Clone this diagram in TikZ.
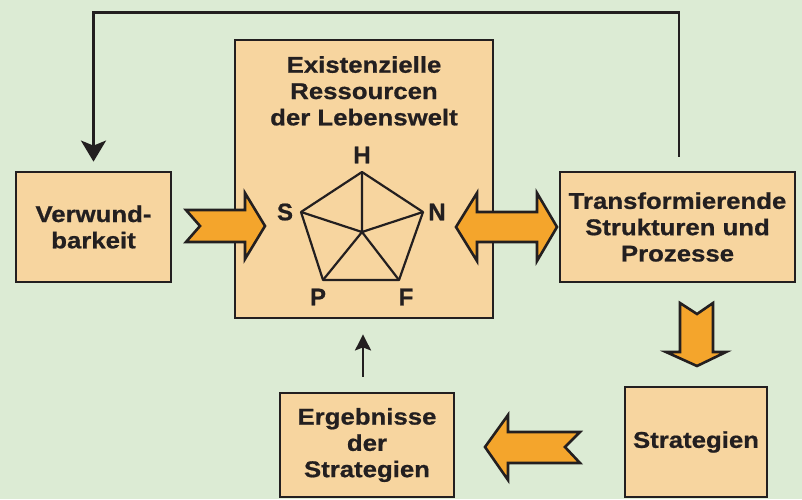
\documentclass[tikz,border=0pt]{standalone}
\usepackage{fontspec}
\setmainfont{Liberation Sans}[FakeStretch=1.13, BoldFeatures={FakeBold=0.8}]
\newfontfamily\lblfont{Liberation Sans}[BoldFeatures={FakeBold=0.8}]
\usetikzlibrary{arrows.meta,calc}
\definecolor{bg}{HTML}{DCEBD4}
\definecolor{boxfill}{HTML}{F7D59F}
\definecolor{orng}{HTML}{F4A52C}
\definecolor{ink}{HTML}{231F20}
\begin{document}
\begin{tikzpicture}[x=1pt,y=-1pt,
  box/.style={draw=ink, line width=2.8pt, fill=boxfill, inner sep=0pt, align=center,
    font=\bfseries\fontsize{22.8}{26.3}\selectfont, text=ink},
  txt/.style={inner sep=0pt, align=center, font=\bfseries\fontsize{22.8}{26.3}\selectfont, text=ink},
  lbl/.style={inner sep=0pt, font=\lblfont\bfseries\fontsize{24}{26}\selectfont, text=ink},
  blockarrow/.style={draw=ink, line width=2.6pt, fill=orng, line join=miter},
  conn/.style={draw=ink, line width=2.8pt},
  pent/.style={draw=ink, line width=2.2pt, line join=round}]
\fill[bg] (0,0) rectangle (802,499);
\useasboundingbox (0,0) rectangle (802,499);

% boxes
\node[box, minimum width=155pt, minimum height=110pt] (vw) at (93.5,227) {Verwund-\\barkeit};
\node[box, minimum width=258pt, minimum height=278pt] (res) at (364,179) {};
\node[txt, anchor=north] (restitle) at (364,56) {Existenzielle\\Ressourcen\\der Lebenswelt};
\node[box, minimum width=235pt, minimum height=110pt] (tsp) at (677.5,227) {Transformierende\\Strukturen und\\Prozesse};
\node[box, minimum width=142pt, minimum height=110pt] (str) at (696,442) {Strategien};
\node[box, minimum width=174pt, minimum height=104pt] (erg) at (367,445) {Ergebnisse\\der\\Strategien};

% pentagon
\coordinate (pH) at (362,172);
\coordinate (pN) at (423,212);
\coordinate (pF) at (399,280);
\coordinate (pP) at (323,280);
\coordinate (pS) at (301,212);
\coordinate (pC) at (362,232);
\draw[pent] (pH) -- (pN) -- (pF) -- (pP) -- (pS) -- cycle;
\draw[pent] (pC) -- (pH) (pC) -- (pN) (pC) -- (pF) (pC) -- (pP) (pC) -- (pS);
\node[lbl] (lH) at (362,155) {H};
\node[lbl] (lS) at (285,212) {S};
\node[lbl] (lN) at (437,212) {N};
\node[lbl] (lP) at (318,297) {P};
\node[lbl] (lF) at (406,297) {F};

% block arrows
\draw[blockarrow] (186,210) -- (245,210) -- (245,193) -- (265,226) -- (245,259) -- (245,242) -- (186,242) -- (200,226) -- cycle;
\draw[blockarrow] (456,227) -- (477,193) -- (477,212) -- (537,212) -- (537,193) -- (557,227) -- (537,261) -- (537,242) -- (477,242) -- (477,261) -- cycle;
\draw[blockarrow] (680,303) -- (697,314) -- (713,303) -- (713,352) -- (726,352) -- (697,366) -- (666,352) -- (680,352) -- cycle;
\draw[blockarrow] (485,447) -- (508,415) -- (508,432) -- (580,432) -- (565,447) -- (580,463) -- (508,463) -- (508,480) -- cycle;

% connectors
\draw[conn, -{Stealth[length=21pt,width=25pt,inset=5pt]}, shorten >=9pt]
  ($(tsp.north)+(1.5,-14)$) -- ++(0,-144) -| (vw.north);
\draw[conn, line width=2.5pt, -{Stealth[length=16pt,width=16pt,inset=3pt]}]
  ($(erg.north)+(-4,-15)$) -- ($(res.south)+(-1,15)$);
\end{tikzpicture}
\end{document}
